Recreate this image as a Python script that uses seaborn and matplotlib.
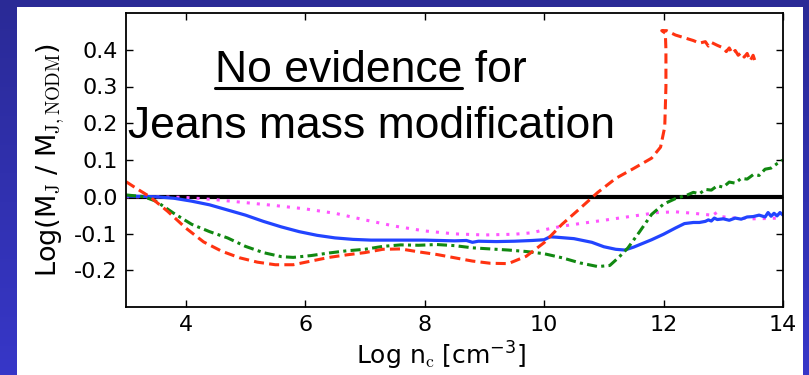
import numpy as np
import pandas as pd
import matplotlib
matplotlib.use("Agg")
import matplotlib.pyplot as plt
from matplotlib.patches import Rectangle
from matplotlib.lines import Line2D
from matplotlib.colors import LinearSegmentedColormap
import seaborn as sns

# ---------------- data ----------------
red_x = [3.0, 3.2, 3.4, 3.7, 4.0, 4.3, 4.6, 4.9, 5.2, 5.5, 5.8, 6.1, 6.4, 6.7, 7.0,
         7.3, 7.6, 7.9, 8.2, 8.5, 8.8, 9.1, 9.4, 9.7, 10.0, 10.3, 10.6, 10.9, 11.2,
         11.5, 11.8, 11.95, 12.02, 12.04, 12.04, 12.03, 11.97, 12.05, 12.2, 12.3,
         12.4, 12.5, 12.6, 12.7, 12.75, 12.8, 12.9, 13.0, 13.05, 13.1, 13.15, 13.2,
         13.25, 13.3, 13.35, 13.4, 13.45, 13.5, 13.55]
red_y = [0.041, 0.02, 0.0, -0.04, -0.085, -0.123, -0.148, -0.166, -0.178, -0.185,
         -0.185, -0.175, -0.165, -0.158, -0.152, -0.143, -0.142, -0.150, -0.157,
         -0.166, -0.175, -0.181, -0.182, -0.162, -0.125, -0.075, -0.032, 0.012,
         0.05, 0.077, 0.105, 0.135, 0.19, 0.30, 0.40, 0.445, 0.452, 0.452, 0.44,
         0.435, 0.43, 0.425, 0.418, 0.422, 0.41, 0.42, 0.412, 0.405, 0.395, 0.405,
         0.39, 0.398, 0.385, 0.392, 0.38, 0.39, 0.37, 0.385, 0.36]

green_x = [3.0, 3.3, 3.5, 3.8, 4.1, 4.4, 4.7, 5.0, 5.3, 5.6, 5.8, 6.1, 6.4, 6.7, 7.0,
           7.3, 7.6, 7.9, 8.2, 8.5, 8.8, 9.1, 9.4, 9.7, 10.0, 10.3, 10.6, 10.9,
           11.1, 11.25, 11.4, 11.6, 11.8, 12.0, 12.2, 12.4, 12.5, 12.6, 12.7, 12.8,
           12.9, 13.0, 13.1, 13.2, 13.3, 13.4, 13.5, 13.6, 13.7, 13.8, 13.9, 14.0]
green_y = [0.005, 0.0, -0.012, -0.045, -0.075, -0.095, -0.112, -0.135, -0.152,
           -0.163, -0.165, -0.16, -0.153, -0.147, -0.143, -0.135, -0.131, -0.132,
           -0.13, -0.133, -0.139, -0.142, -0.145, -0.149, -0.155, -0.166, -0.18,
           -0.19, -0.187, -0.165, -0.14, -0.095, -0.048, -0.02, -0.005, 0.005,
           0.012, 0.008, 0.02, 0.018, 0.03, 0.026, 0.04, 0.037, 0.05, 0.048, 0.06,
           0.058, 0.075, 0.078, 0.09, 0.10]

blue_x = [3.0, 3.5, 3.8, 4.1, 4.4, 4.7, 5.0, 5.3, 5.6, 5.9, 6.2, 6.5, 6.8, 7.1, 7.5,
          8.0, 8.5, 8.7, 8.8, 8.9, 9.2, 9.5, 9.8, 10.0, 10.1, 10.2, 10.5, 10.8,
          11.0, 11.2, 11.35, 11.5, 11.8, 12.0, 12.2, 12.35, 12.5, 12.6, 12.7,
          12.75, 12.8, 12.85, 12.9, 13.0, 13.1, 13.2, 13.3, 13.4, 13.5, 13.6, 13.7,
          13.75, 13.8, 13.85, 13.9, 13.95, 14.0]
blue_y = [0.002, 0.0, -0.004, -0.012, -0.022, -0.036, -0.05, -0.067, -0.082,
          -0.095, -0.105, -0.112, -0.116, -0.118, -0.118, -0.118, -0.12, -0.119,
          -0.124, -0.121, -0.122, -0.121, -0.119, -0.117, -0.109, -0.11, -0.114,
          -0.124, -0.136, -0.143, -0.145, -0.137, -0.117, -0.102, -0.085, -0.073,
          -0.07, -0.07, -0.067, -0.063, -0.066, -0.058, -0.062, -0.06, -0.064,
          -0.058, -0.061, -0.055, -0.054, -0.05, -0.055, -0.043, -0.053, -0.045,
          -0.052, -0.043, -0.05]

mag_x = [3.0, 3.5, 4.0, 4.5, 5.0, 5.5, 6.0, 6.5, 7.0, 7.5, 8.0, 8.5, 9.0, 9.5, 9.8,
         10.0, 10.3, 10.6, 11.0, 11.3, 11.6, 11.9, 12.2, 12.5, 12.8, 12.85, 12.9,
         13.2, 13.5, 13.8, 14.0]
mag_y = [0.0, 0.0, -0.002, -0.008, -0.016, -0.024, -0.033, -0.045, -0.063, -0.08,
         -0.093, -0.101, -0.104, -0.102, -0.098, -0.09, -0.08, -0.073, -0.064,
         -0.057, -0.05, -0.043, -0.041, -0.045, -0.05, -0.041, -0.053, -0.058,
         -0.06, -0.059, -0.057]

x_ticks = [4, 6, 8, 10, 12, 14]
y_ticks = [-0.2, -0.1, 0.0, 0.1, 0.2, 0.3, 0.4]

# ---------------- style ----------------
sns.set_theme(style="ticks")
plt.rcParams["font.family"] = ["DejaVu Sans"]
plt.rcParams["mathtext.fontset"] = "cm"
plt.rcParams["mathtext.default"] = "regular"

W, H = 809, 375
fig = plt.figure(figsize=(W / 100, H / 100), dpi=100)
fig.patch.set_facecolor("#2e2eaa")

# blue slide frame with a soft vertical gradient
bg = fig.add_axes([0, 0, 1, 1], zorder=-2)
cmap = LinearSegmentedColormap.from_list("frame", ["#2a2a96", "#3737c8"])
bg.imshow(np.linspace(0, 1, 256).reshape(-1, 1), cmap=cmap, aspect="auto",
          extent=[0, 1, 0, 1], origin="upper")
bg.set_axis_off()
fig.add_artist(Rectangle((17 / W, 0), (803 - 17) / W, (H - 7) / H,
                         transform=fig.transFigure, facecolor="white",
                         edgecolor="none", zorder=-1))

ax = fig.add_axes([126 / W, 1 - 307 / H, (783 - 126) / W, (307 - 13) / H])
ax.set_facecolor("white")

ax.axhline(0.0, color="black", lw=3, zorder=1.5)

df_r = pd.DataFrame({"x": red_x, "y": red_y})
df_g = pd.DataFrame({"x": green_x, "y": green_y})
df_b = pd.DataFrame({"x": blue_x, "y": blue_y})
df_m = pd.DataFrame({"x": mag_x, "y": mag_y})

sns.lineplot(data=df_m, x="x", y="y", ax=ax, sort=False, estimator=None,
             color="#ff55ff", lw=2.2, zorder=2)
sns.lineplot(data=df_b, x="x", y="y", ax=ax, sort=False, estimator=None,
             color="#2244ff", lw=2.3, zorder=2)
sns.lineplot(data=df_g, x="x", y="y", ax=ax, sort=False, estimator=None,
             color="#118811", lw=2.2, zorder=2)
sns.lineplot(data=df_r, x="x", y="y", ax=ax, sort=False, estimator=None,
             color="#ff3311", lw=2.2, zorder=2)

lines = ax.get_lines()[1:]
lines[0].set_dashes([1, 2.3])
lines[1].set_linestyle("-")
lines[2].set_dashes([3.3, 1.4, 1, 1.4])
lines[3].set_dashes([3.3, 1.7])

ax.set_xlim(3, 14)
ax.set_ylim(-0.3, 0.5)
ax.set_xticks(x_ticks)
ax.set_xticklabels([str(t) for t in x_ticks])
ax.set_yticks(y_ticks)
ax.set_yticklabels([f"{t:.1f}" for t in y_ticks])
ax.tick_params(direction="in", top=True, right=True, length=5, width=1,
               labelsize=16, colors="black", pad=6)
for s in ax.spines.values():
    s.set_linewidth(1.3)
    s.set_color("black")

ax.set_xlabel(r"Log n$_{\rm c}$ [cm$^{-3}$]", fontsize=18, color="black")
ax.set_ylabel(r"Log(M$_{\rm J}$ / M$_{\rm J,NODM}$)", fontsize=19.5, color="black")
ax.xaxis.set_label_coords(0.479, -0.11)
ax.yaxis.set_label_coords(-0.09, 0.5)

tfont = dict(fontsize=32, family=["Liberation Sans", "DejaVu Sans"], color="black")
ax.text(0.1355, 0.765, "No evidence for", transform=ax.transAxes,
        ha="left", va="baseline", **tfont)
ax.text(0.003, 0.575, "Jeans mass modification", transform=ax.transAxes,
        ha="left", va="baseline", **tfont)

# underline "No evidence"
r = fig.canvas.get_renderer()
tmp = ax.text(0.1355, 0.765, "No evidence", transform=ax.transAxes,
              ha="left", va="baseline", alpha=0, **tfont)
bb = tmp.get_window_extent(renderer=r)
inv = ax.transAxes.inverted()
x0, _ = inv.transform((bb.x0, bb.y0))
x1, _ = inv.transform((bb.x1, bb.y0))
tmp.remove()
ax.add_line(Line2D([x0, x1], [0.745, 0.745], transform=ax.transAxes,
                   color="black", lw=2.2, clip_on=False))

fig.savefig("out.png", dpi=100, facecolor=fig.get_facecolor())
